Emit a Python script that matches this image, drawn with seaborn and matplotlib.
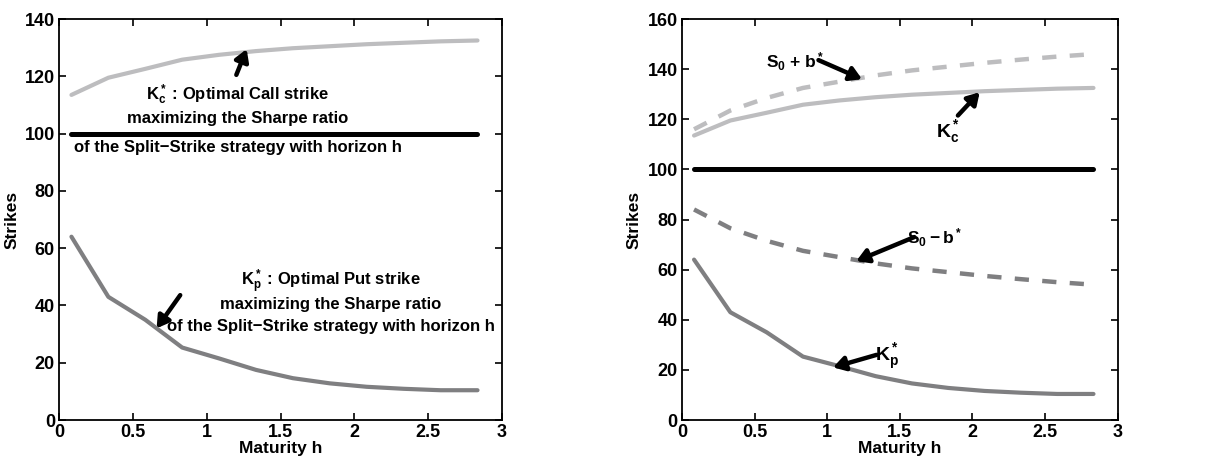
import numpy as np
import pandas as pd
import matplotlib
matplotlib.use('Agg')
import matplotlib.pyplot as plt
import seaborn as sns

# ---- DATA ----
maturity = [0.0833, 0.3333, 0.5833, 0.8333, 1.0833, 1.3333, 1.5833, 1.8333, 2.0833, 2.3333, 2.5833, 2.8333]
k_call = [113.5, 119.5, 122.6, 125.8, 127.5, 128.8, 129.8, 130.5, 131.2, 131.7, 132.2, 132.5]
k_put = [64.0, 43.0, 35.0, 25.3, 21.5, 17.5, 14.6, 12.8, 11.6, 10.9, 10.4, 10.4]
s0_plus_b = [116.0, 123.5, 128.5, 132.5, 135.0, 137.5, 139.5, 141.0, 142.5, 143.8, 145.0, 146.0]
s0_minus_b = [84.0, 76.5, 71.5, 67.5, 65.0, 62.5, 60.5, 59.0, 57.5, 56.2, 55.0, 54.0]
spot = [100.0] * len(maturity)

df = pd.DataFrame({'h': maturity, 'kc': k_call, 'kp': k_put,
                   'up': s0_plus_b, 'dn': s0_minus_b, 's0': spot})

LIGHT = '#bdbdbf'
DARK = '#7f7f81'

sns.set_style('ticks')
plt.rcParams['font.family'] = ['Liberation Sans', 'DejaVu Sans']
plt.rcParams['font.weight'] = 'bold'
plt.rcParams['axes.labelweight'] = 'bold'
plt.rcParams['text.color'] = 'black'
plt.rcParams['axes.labelcolor'] = 'black'
plt.rcParams['xtick.color'] = 'black'
plt.rcParams['ytick.color'] = 'black'
plt.rcParams['mathtext.fontset'] = 'custom'
plt.rcParams['mathtext.rm'] = 'Liberation Sans:bold'
plt.rcParams['mathtext.it'] = 'Liberation Sans:bold'
plt.rcParams['mathtext.bf'] = 'Liberation Sans:bold'
plt.rcParams['mathtext.default'] = 'rm'

fig = plt.figure(figsize=(12.07, 4.67), dpi=100)
ax1 = fig.add_axes([0.049, 0.1006, 0.367, 0.8587])
ax2 = fig.add_axes([0.565, 0.1006, 0.361, 0.8587])


def style_axes(ax, ymax, ystep):
    ax.set_xlim(0, 3)
    ax.set_ylim(0, ymax)
    ax.set_xticks(np.arange(0, 3.01, 0.5))
    ax.set_xticklabels(['0', '0.5', '1', '1.5', '2', '2.5', '3'])
    ax.set_yticks(np.arange(0, ymax + 1, ystep))
    ax.tick_params(direction='in', length=5, width=1.2, labelsize=13,
                   top=True, right=True, pad=3)
    for lab in ax.get_xticklabels() + ax.get_yticklabels():
        lab.set_fontweight('bold')
    for sp in ax.spines.values():
        sp.set_visible(True)
        sp.set_linewidth(1.3)
        sp.set_color('black')
    ax.set_xlabel('Maturity h', fontsize=12.5, labelpad=0)
    ax.set_ylabel('Strikes', fontsize=12.5, labelpad=4)


arrow = dict(arrowstyle='-|>,head_length=0.5,head_width=0.3', lw=3.2, color='black',
             shrinkA=0, shrinkB=0, mutation_scale=14)

# ---- LEFT PANEL ----
sns.lineplot(data=df, x='h', y='kc', ax=ax1, color=LIGHT, lw=3)
sns.lineplot(data=df, x='h', y='kp', ax=ax1, color=DARK, lw=3)
sns.lineplot(data=df, x='h', y='s0', ax=ax1, color='black', lw=3.6)
style_axes(ax1, 140, 20)

ax1.text(1.21, 113.5, r'$K_c^*$ : Optimal Call strike', ha='center', va='center', fontsize=12)
ax1.text(1.21, 105.4, 'maximizing the Sharpe ratio', ha='center', va='center', fontsize=12)
ax1.text(1.21, 95.3, 'of the Split\u2212Strike strategy with horizon h', ha='center', va='center', fontsize=12)
ax1.annotate('', xy=(1.27, 129.5), xytext=(1.2, 120.5), arrowprops=arrow)

ax1.text(1.84, 48.2, r'$K_p^*$ : Optimal Put strike', ha='center', va='center', fontsize=12)
ax1.text(1.84, 40.5, 'maximizing the Sharpe ratio', ha='center', va='center', fontsize=12)
ax1.text(1.84, 32.6, 'of the Split\u2212Strike strategy with horizon h', ha='center', va='center', fontsize=12)
ax1.annotate('', xy=(0.66, 32), xytext=(0.82, 43.6), arrowprops=arrow)

# ---- RIGHT PANEL ----
sns.lineplot(data=df, x='h', y='up', ax=ax2, color=LIGHT, lw=3.2)
ax2.lines[-1].set_dashes((3.2, 3))
sns.lineplot(data=df, x='h', y='kc', ax=ax2, color=LIGHT, lw=3)
sns.lineplot(data=df, x='h', y='s0', ax=ax2, color='black', lw=3.6)
sns.lineplot(data=df, x='h', y='dn', ax=ax2, color=DARK, lw=3.2)
ax2.lines[-1].set_dashes((3.2, 3))
sns.lineplot(data=df, x='h', y='kp', ax=ax2, color=DARK, lw=3)
style_axes(ax2, 160, 20)

ax2.text(0.78, 143, r'$S_0$ + $b^*$', ha='center', va='center', fontsize=12.5)
ax2.annotate('', xy=(1.24, 136), xytext=(0.94, 143.6), arrowprops=arrow)

ax2.text(1.83, 115, r'$K_c^*$', ha='center', va='center', fontsize=14)
ax2.annotate('', xy=(2.05, 130.8), xytext=(1.9, 121.5), arrowprops=arrow)

ax2.text(1.74, 72.6, r'$S_0 - b^*$', ha='center', va='center', fontsize=12.5)
ax2.annotate('', xy=(1.2, 63.4), xytext=(1.6, 73), arrowprops=arrow)

ax2.text(1.41, 25, r'$K_p^*$', ha='center', va='center', fontsize=14)
ax2.annotate('', xy=(1.04, 21), xytext=(1.34, 26), arrowprops=arrow)

fig.savefig('out.png', dpi=100)
plt.close(fig)
